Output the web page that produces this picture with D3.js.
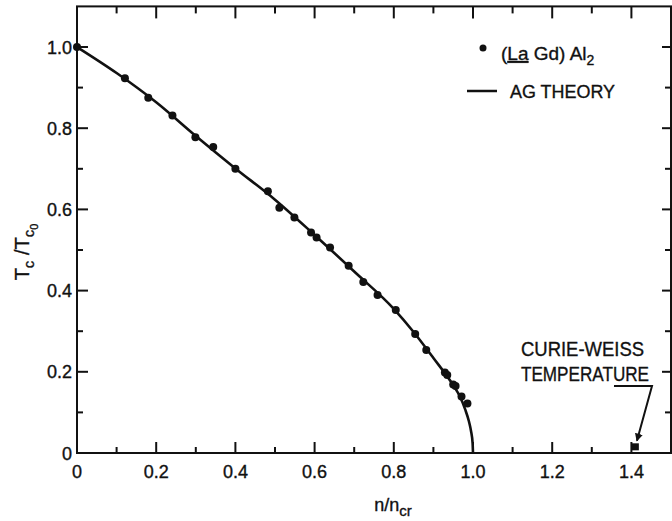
<!DOCTYPE html>
<html>
<head>
<meta charset="utf-8">
<script src="https://cdn.jsdelivr.net/npm/d3@7"></script>
<style>
  body { margin: 0; background: #fff; }
  svg { display: block; }
  text { font-family: "Liberation Sans", Arial, sans-serif; fill: #111; stroke: #111; stroke-width: 0.35; }
</style>
</head>
<body>
<svg width="672" height="521"></svg>
<script>
// measured points, (La Gd) Al2
var dataX = [0, 0.121, 0.180, 0.241, 0.299, 0.344, 0.400, 0.482, 0.511, 0.549, 0.591, 0.605, 0.639, 0.686, 0.723, 0.759, 0.805, 0.854, 0.882, 0.929, 0.935, 0.950, 0.956, 0.971, 0.986];
var dataY = [1.0, 0.923, 0.875, 0.831, 0.778, 0.754, 0.700, 0.645, 0.604, 0.580, 0.543, 0.531, 0.506, 0.461, 0.421, 0.389, 0.352, 0.293, 0.254, 0.198, 0.192, 0.169, 0.165, 0.139, 0.122];

// AG theory curve
var theoryX = [0, 0.1, 0.2, 0.3, 0.4, 0.5, 0.6, 0.7, 0.8, 0.85, 0.9, 0.95, 0.967, 0.98, 0.99, 0.995, 0.999, 1.0];
var theoryY = [1.0, 0.936, 0.864, 0.781, 0.701, 0.624, 0.537, 0.447, 0.355, 0.298, 0.234, 0.167, 0.139, 0.108, 0.077, 0.054, 0.024, 0];

// curie-weiss point and its arrow
var curieX = [1.41];
var curieY = [0.014];
var arrowX = [1.356, 1.452, 1.414];
var arrowY = [0.165, 0.165, 0.030];

var xTickLabels = ["0", "0.2", "0.4", "0.6", "0.8", "1.0", "1.2", "1.4"];
var yTickLabels = ["0", "0.2", "0.4", "0.6", "0.8", "1.0"];

const svg = d3.select("svg");
const x = d3.scaleLinear().domain([0, 1.5]).range([77, 671]);
const y = d3.scaleLinear().domain([0, 1.1]).range([453, 6.4]);

var minorX = d3.range(0, 15).map(function(i) { return i / 10; });
var minorY = d3.range(0, 11).map(function(i) { return i / 10; });
function isMajor(v) { return Math.abs(Math.round(v * 10) % 2) < 0.5; }

// frame
svg.append("rect")
    .attr("x", x(0)).attr("y", y(1.1))
    .attr("width", x(1.5) - x(0)).attr("height", y(0) - y(1.1))
    .attr("fill", "none").attr("stroke", "#111").attr("stroke-width", 2);

// bottom ticks (inward)
svg.append("g").selectAll("line").data(minorX.slice(1)).enter().append("line")
    .attr("x1", function(d) { return x(d); }).attr("x2", function(d) { return x(d); })
    .attr("y1", y(0)).attr("y2", function(d) { return y(0) - (isMajor(d) ? 11 : 6); })
    .attr("stroke", "#111").attr("stroke-width", 2);

// top ticks
svg.append("g").selectAll("line").data(minorX.slice(1)).enter().append("line")
    .attr("x1", function(d) { return x(d); }).attr("x2", function(d) { return x(d); })
    .attr("y1", y(1.1)).attr("y2", function(d) { return y(1.1) + (isMajor(d) ? 12 : 7); })
    .attr("stroke", "#111").attr("stroke-width", 2);

// left ticks
svg.append("g").selectAll("line").data(minorY.slice(1)).enter().append("line")
    .attr("y1", function(d) { return y(d); }).attr("y2", function(d) { return y(d); })
    .attr("x1", x(0)).attr("x2", function(d) { return x(0) + (isMajor(d) ? 11 : 6); })
    .attr("stroke", "#111").attr("stroke-width", 2);

// right ticks
svg.append("g").selectAll("line").data(minorY.slice(1)).enter().append("line")
    .attr("y1", function(d) { return y(d); }).attr("y2", function(d) { return y(d); })
    .attr("x1", x(1.5)).attr("x2", function(d) { return x(1.5) - (isMajor(d) ? 9 : 6); })
    .attr("stroke", "#111").attr("stroke-width", 2);

// tick labels
svg.append("g").selectAll("text").data(xTickLabels).enter().append("text")
    .attr("x", function(d) { return x(+d); })
    .attr("y", 478)
    .attr("text-anchor", "middle")
    .attr("font-size", 18)
    .text(function(d) { return d; });

svg.append("g").selectAll("text").data(yTickLabels).enter().append("text")
    .attr("x", x(0) - 5)
    .attr("y", function(d) { return y(+d) + 6.5; })
    .attr("text-anchor", "end")
    .attr("font-size", 18)
    .text(function(d) { return d; });

// axis titles
var xt = svg.append("text")
    .attr("x", 393).attr("y", 511)
    .attr("text-anchor", "middle")
    .attr("font-size", 18);
xt.append("tspan").text("n/n");
xt.append("tspan").attr("font-size", 15).attr("dy", 5).text("cr");

var yt = svg.append("text")
    .attr("transform", "translate(29,252) rotate(-90)")
    .attr("text-anchor", "middle")
    .attr("font-size", 20);
yt.append("tspan").text("T");
yt.append("tspan").attr("font-size", 15).attr("dy", 5).text("c");
yt.append("tspan").attr("dy", -5).text(" /T");
yt.append("tspan").attr("font-size", 15).attr("dy", 5).text("c");
yt.append("tspan").attr("font-size", 11).attr("dy", 4).text("0");

// theory line
var theory = theoryX.map(function(v, i) { return [v, theoryY[i]]; });
var line = d3.line()
    .x(function(d) { return x(d[0]); })
    .y(function(d) { return y(d[1]); })
    .curve(d3.curveMonotoneX);

svg.append("path")
    .datum(theory)
    .attr("d", line)
    .attr("fill", "none")
    .attr("stroke", "#111")
    .attr("stroke-width", 2.6);

// data points
svg.append("g").selectAll("circle").data(dataX).enter().append("circle")
    .attr("cx", function(d) { return x(d); })
    .attr("cy", function(d, i) { return y(dataY[i]); })
    .attr("r", 4)
    .attr("fill", "#111");

// curie-weiss marker
svg.append("g").selectAll("rect").data(curieX).enter().append("rect")
    .attr("x", function(d) { return x(d) - 3.5; })
    .attr("y", function(d, i) { return y(curieY[i]) - 4; })
    .attr("width", 7).attr("height", 7)
    .attr("fill", "#111");

// arrow
svg.append("defs").append("marker")
    .attr("id", "head")
    .attr("viewBox", "0 0 10 10")
    .attr("refX", 9).attr("refY", 5)
    .attr("markerWidth", 4).attr("markerHeight", 4)
    .attr("orient", "auto")
    .append("path").attr("d", "M0,0L10,5L0,10Z").attr("fill", "#111");

var arrow = arrowX.map(function(v, i) { return [v, arrowY[i]]; });
svg.append("path")
    .datum(arrow)
    .attr("d", d3.line().x(function(d) { return x(d[0]); }).y(function(d) { return y(d[1]); }))
    .attr("fill", "none")
    .attr("stroke", "#111")
    .attr("stroke-width", 2)
    .attr("marker-end", "url(#head)");

svg.append("text")
    .attr("x", 521).attr("y", 356)
    .attr("font-size", 20)
    .attr("textLength", 123).attr("lengthAdjust", "spacingAndGlyphs")
    .text("CURIE-WEISS");
svg.append("text")
    .attr("x", 521).attr("y", 381)
    .attr("font-size", 20)
    .attr("textLength", 128).attr("lengthAdjust", "spacingAndGlyphs")
    .text("TEMPERATURE");

// legend
svg.append("circle").attr("cx", 483).attr("cy", 48).attr("r", 3.5).attr("fill", "#111");
var lg = svg.append("text")
    .attr("x", 501).attr("y", 60)
    .attr("font-size", 19);
lg.append("tspan").text("(");
lg.append("tspan").attr("text-decoration", "underline").text("La");
lg.append("tspan").text(" Gd) Al");
lg.append("tspan").attr("font-size", 14).attr("dy", 5).text("2");

svg.append("line")
    .attr("x1", 467).attr("x2", 497).attr("y1", 91).attr("y2", 91)
    .attr("stroke", "#111").attr("stroke-width", 2.5);
svg.append("text")
    .attr("x", 510).attr("y", 98)
    .attr("font-size", 18)
    .attr("textLength", 105).attr("lengthAdjust", "spacingAndGlyphs")
    .text("AG THEORY");
</script>
</body>
</html>
